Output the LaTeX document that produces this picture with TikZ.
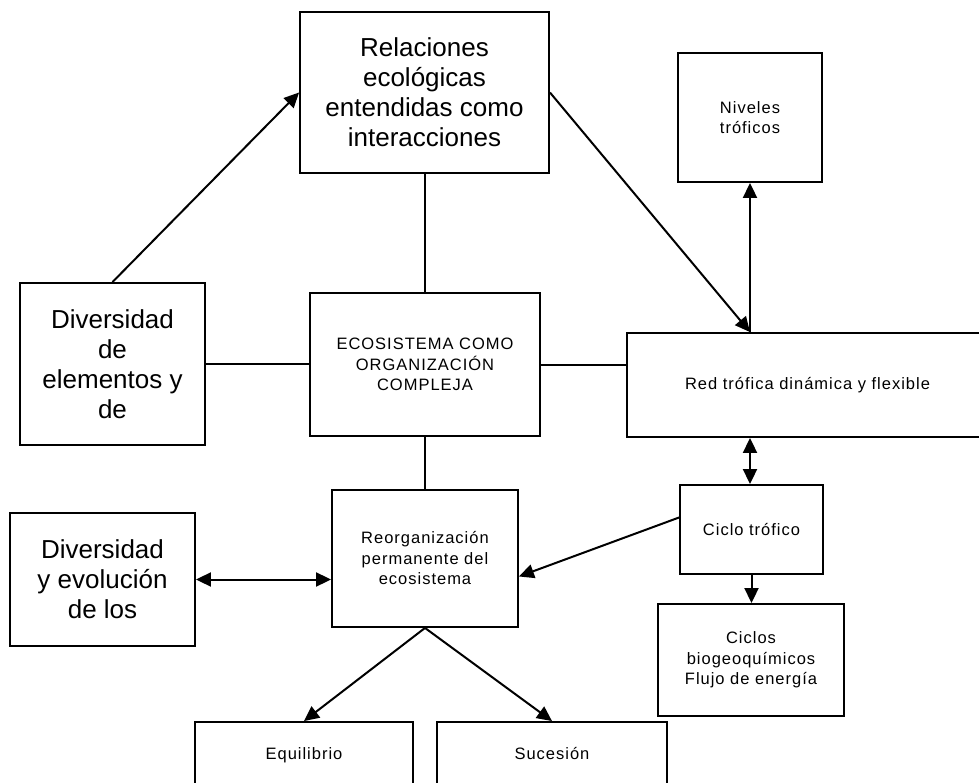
\documentclass[tikz,border=0pt]{standalone}
\usepackage{fontspec}
\setmainfont{Liberation Sans}
\newfontfamily\smallsp[LetterSpace=6]{Liberation Sans}
\usetikzlibrary{arrows.meta}
\tikzset{
  box/.style={draw, line width=1.9pt, rectangle, inner sep=0pt, align=center},
  bigbox/.style={box, font=\fontsize{26pt}{30pt}\selectfont},
  smallbox/.style={box, font=\smallsp\fontsize{16.5pt}{20.5pt}\selectfont},
  link/.style={line width=2pt},
  arr/.style={link, -{Triangle[length=15pt,width=14pt]}},
  darr/.style={link, {Triangle[length=15pt,width=14pt]}-{Triangle[length=15pt,width=14pt]}},
}
\begin{document}
\begin{tikzpicture}[x=1pt,y=-1pt]
\useasboundingbox (0,0) rectangle (979,783);
\clip (0,0) rectangle (979,783);
\fill[white] (0,0) rectangle (979,783);
% boxes
\node[bigbox, minimum width=249pt, minimum height=161pt] (rel) at (424.5,92.5) {Relaciones\\ecológicas\\entendidas como\\interacciones};
\node[smallbox, minimum width=144pt, minimum height=129pt] (niv) at (750,117.5) {Niveles\\tróficos};
\node[bigbox, minimum width=185pt, minimum height=162pt] (divel) at (112.5,364) {Diversidad\\de\\elementos y\\de};
\node[smallbox, minimum width=230pt, minimum height=143pt] (eco) at (425,364.5) {ECOSISTEMA COMO\\ORGANIZACIÓN\\COMPLEJA};
\node[smallbox, minimum width=361pt, minimum height=104pt] (red) at (807.5,385) {Red trófica dinámica y flexible};
\node[smallbox, minimum width=186pt, minimum height=137pt] (reorg) at (425,558.5) {Reorganización\\permanente del\\ecosistema};
\node[bigbox, minimum width=185pt, minimum height=133pt] (divev) at (102.5,579.5) {Diversidad\\y evolución\\de los};
\node[smallbox, minimum width=143pt, minimum height=89pt] (ciclo) at (751.5,529.5) {Ciclo trófico};
\node[smallbox, minimum width=186pt, minimum height=112pt] (ciclos) at (751,660) {Ciclos\\biogeoquímicos\\Flujo de energía};
\node[smallbox, minimum width=218pt, minimum height=66pt] (equi) at (304,755) {Equilibrio\vphantom{Ság}};
\node[smallbox, minimum width=230pt, minimum height=66pt] (suc) at (552,755) {Sucesión\vphantom{Ság}};
% connectors
\draw[arr] (divel.north) -- (rel.west);
\draw[link] (rel.south) -- (rel.south |- eco.north);
\draw[arr] (rel.east) -- (niv.south |- red.north);
\draw[arr] (niv.south |- red.north) -- (niv.south);
\draw[link] (divel.east) -- (divel.east -| eco.west);
\draw[link] (eco.east) -- (eco.east -| red.west);
\draw[link] (eco.south) -- (eco.south |- reorg.north);
\draw[darr] (niv.south |- red.south) -- (niv.south |- ciclo.north);
\draw[arr] (ciclo.south) -- (ciclo.south |- ciclos.north);
\draw[arr] ([yshift=12pt]ciclo.west) -- ([yshift=-18pt]reorg.east);
\draw[darr] (divev.east) -- (divev.east -| reorg.west);
\draw[arr] (reorg.south) -- (equi.north);
\draw[arr] (reorg.south) -- (suc.north);
\end{tikzpicture}
\end{document}
